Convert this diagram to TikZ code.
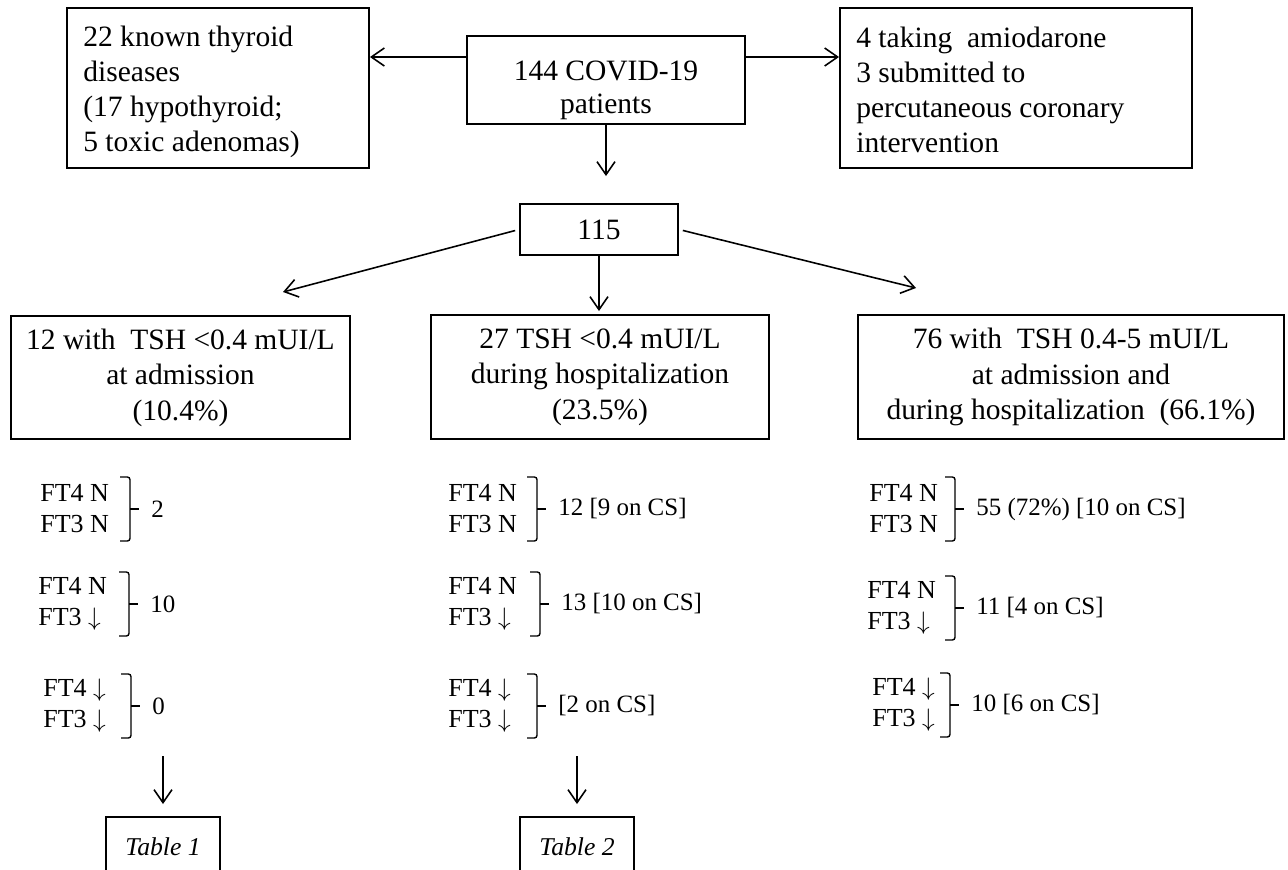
\documentclass[tikz,border=0pt]{standalone}
\usepackage{fontspec}
\setmainfont{Liberation Serif}
\usetikzlibrary{arrows.meta, calc, positioning}

\newcommand{\boxfont}{\fontsize{16.8}{20.2}\selectfont}
\newcommand{\ftfont}{\fontsize{14.8}{17.6}\selectfont}
\newcommand{\lowarr}{$\downarrow$}

\tikzset{
	box/.style={draw, line width=1.1pt, inner sep=0pt, align=center, font=\boxfont},
	boxtext/.style={inner sep=0pt, align=left, font=\fontsize{16.8}{19.9}\selectfont},
	tabbox/.style={draw, line width=1.1pt, inner sep=0pt, font=\fontsize{14.6}{17}\selectfont\itshape},
	ftpair/.style={inner sep=0pt, align=left, font=\ftfont},
	ftlabel/.style={inner sep=0pt, font=\fontsize{14.2}{17}\selectfont},
	arr/.style={line width=0.9pt, -{Straight Barb[length=2.6mm, width=3.6mm]}},
	brace/.style={line width=0.8pt, rounded corners=1.5pt}
}

\begin{document}
\begin{tikzpicture}[x=0.02cm, y=-0.02cm]
	\useasboundingbox (0,0) rectangle (1288,869);
	\clip (0,0) rectangle (1288,869);
	\fill [white] (0,0) rectangle (1288,869);

	% top row
	\node [box, minimum width=278*0.02cm, minimum height=88*0.02cm] (covid) at (606,80) {};
	\node [box, draw=none] (covidtext) at (606,90) {144 COVID-19\\[-1.5pt]patients};
	\node [box, minimum width=302*0.02cm, minimum height=160*0.02cm] (thy) at (218,88) {};
	\node [boxtext, anchor=west] (thytext) at (83,92) {22 known thyroid\\diseases\\(17 hypothyroid;\\5 toxic adenomas)};
	\node [box, minimum width=352*0.02cm, minimum height=160*0.02cm] (amio) at (1016,88) {};
	\node [boxtext, anchor=west] (amiotext) at (856,90) {4 taking\ \ amiodarone\\3 submitted to\\percutaneous coronary\\intervention};

	\node [box, minimum width=158*0.02cm, minimum height=51*0.02cm] (n115) at (599,229.5) {115};

	% TSH groups
	\node [box, minimum width=339*0.02cm, minimum height=123*0.02cm] (low) at (180.5,377.5) {12 with\ \ TSH <0.4 mUI/L\\at admission\\(10.4\%)};
	\node [box, minimum width=338*0.02cm, minimum height=124*0.02cm] (hosp) at (600,377) {27 TSH <0.4 mUI/L\\during hospitalization\\(23.5\%)};
	\node [box, minimum width=426*0.02cm, minimum height=124*0.02cm] (norm) at (1071,377) {76 with\ \ TSH 0.4-5 mUI/L\\at admission and\\during hospitalization\ \ (66.1\%)};

	% arrows
	\coordinate (cl) at ($(covid.west)+(0,-23)$);
	\coordinate (cr) at ($(covid.east)+(0,-23)$);
	\draw [arr] (cl) -- (cl -| thy.east);
	\draw [arr] (cr) -- (cr -| amio.west);
	\draw [arr, shorten >=0.54cm] (covid.south) -- (covid.south |- n115.north);
	\draw [arr, shorten >=0.06cm] (n115.south) -- (n115.south |- hosp.north);
	\coordinate (lowtip) at (283,292);
	\coordinate (normtip) at (916,288);
	\draw [arr, shorten <=0.08cm] (n115.west) -- (lowtip);
	\draw [arr, shorten <=0.08cm] (n115.east) -- (normtip);

	% FT4 / FT3
	\foreach \x/\bx/\y/\a/\b/\n [count=\i] in {40/120/509/N/N/2, 38/119/604/N/\lowarr/10, 43/121/706/\lowarr/\lowarr/0,
		448/527/509/N/N/{12 [9 on CS]}, 448/530/604/N/\lowarr/{13 [10 on CS]}, 448/527/706/\lowarr/\lowarr/{[2 on CS]},
		869/945/509/N/N/{55 (72\%) [10 on CS]}, 867/945/608/N/\lowarr/{11 [4 on CS]}, 872/940/705/\lowarr/\lowarr/{10 [6 on CS]}}
	{
		\node [ftpair, anchor=west] (ft\i) at (\x,\y) {FT4 \a\\FT3 \b};
		\draw [brace] (\bx,\y-32) -- (\bx+10,\y-32) -- (\bx+10,\y+32) -- (\bx,\y+32);
		\draw [brace] (\bx+10,\y) -- (\bx+19,\y);
		\node [ftlabel, anchor=west] (lab\i) at (\bx+31,\y) {\n};
	}

	% tables
	\node [tabbox, minimum width=114*0.02cm, minimum height=60*0.02cm] (tab1) at (163,847) {Table 1};
	\node [tabbox, minimum width=114*0.02cm, minimum height=60*0.02cm] (tab2) at (577,847) {Table 2};
	\coordinate (t1) at ($(tab1.north)+(0,-60)$);
	\coordinate (t2) at ($(tab2.north)+(0,-60)$);
	\draw [arr, shorten >=0.24cm] (t1) -- (tab1.north);
	\draw [arr, shorten >=0.24cm] (t2) -- (tab2.north);
\end{tikzpicture}
\end{document}
